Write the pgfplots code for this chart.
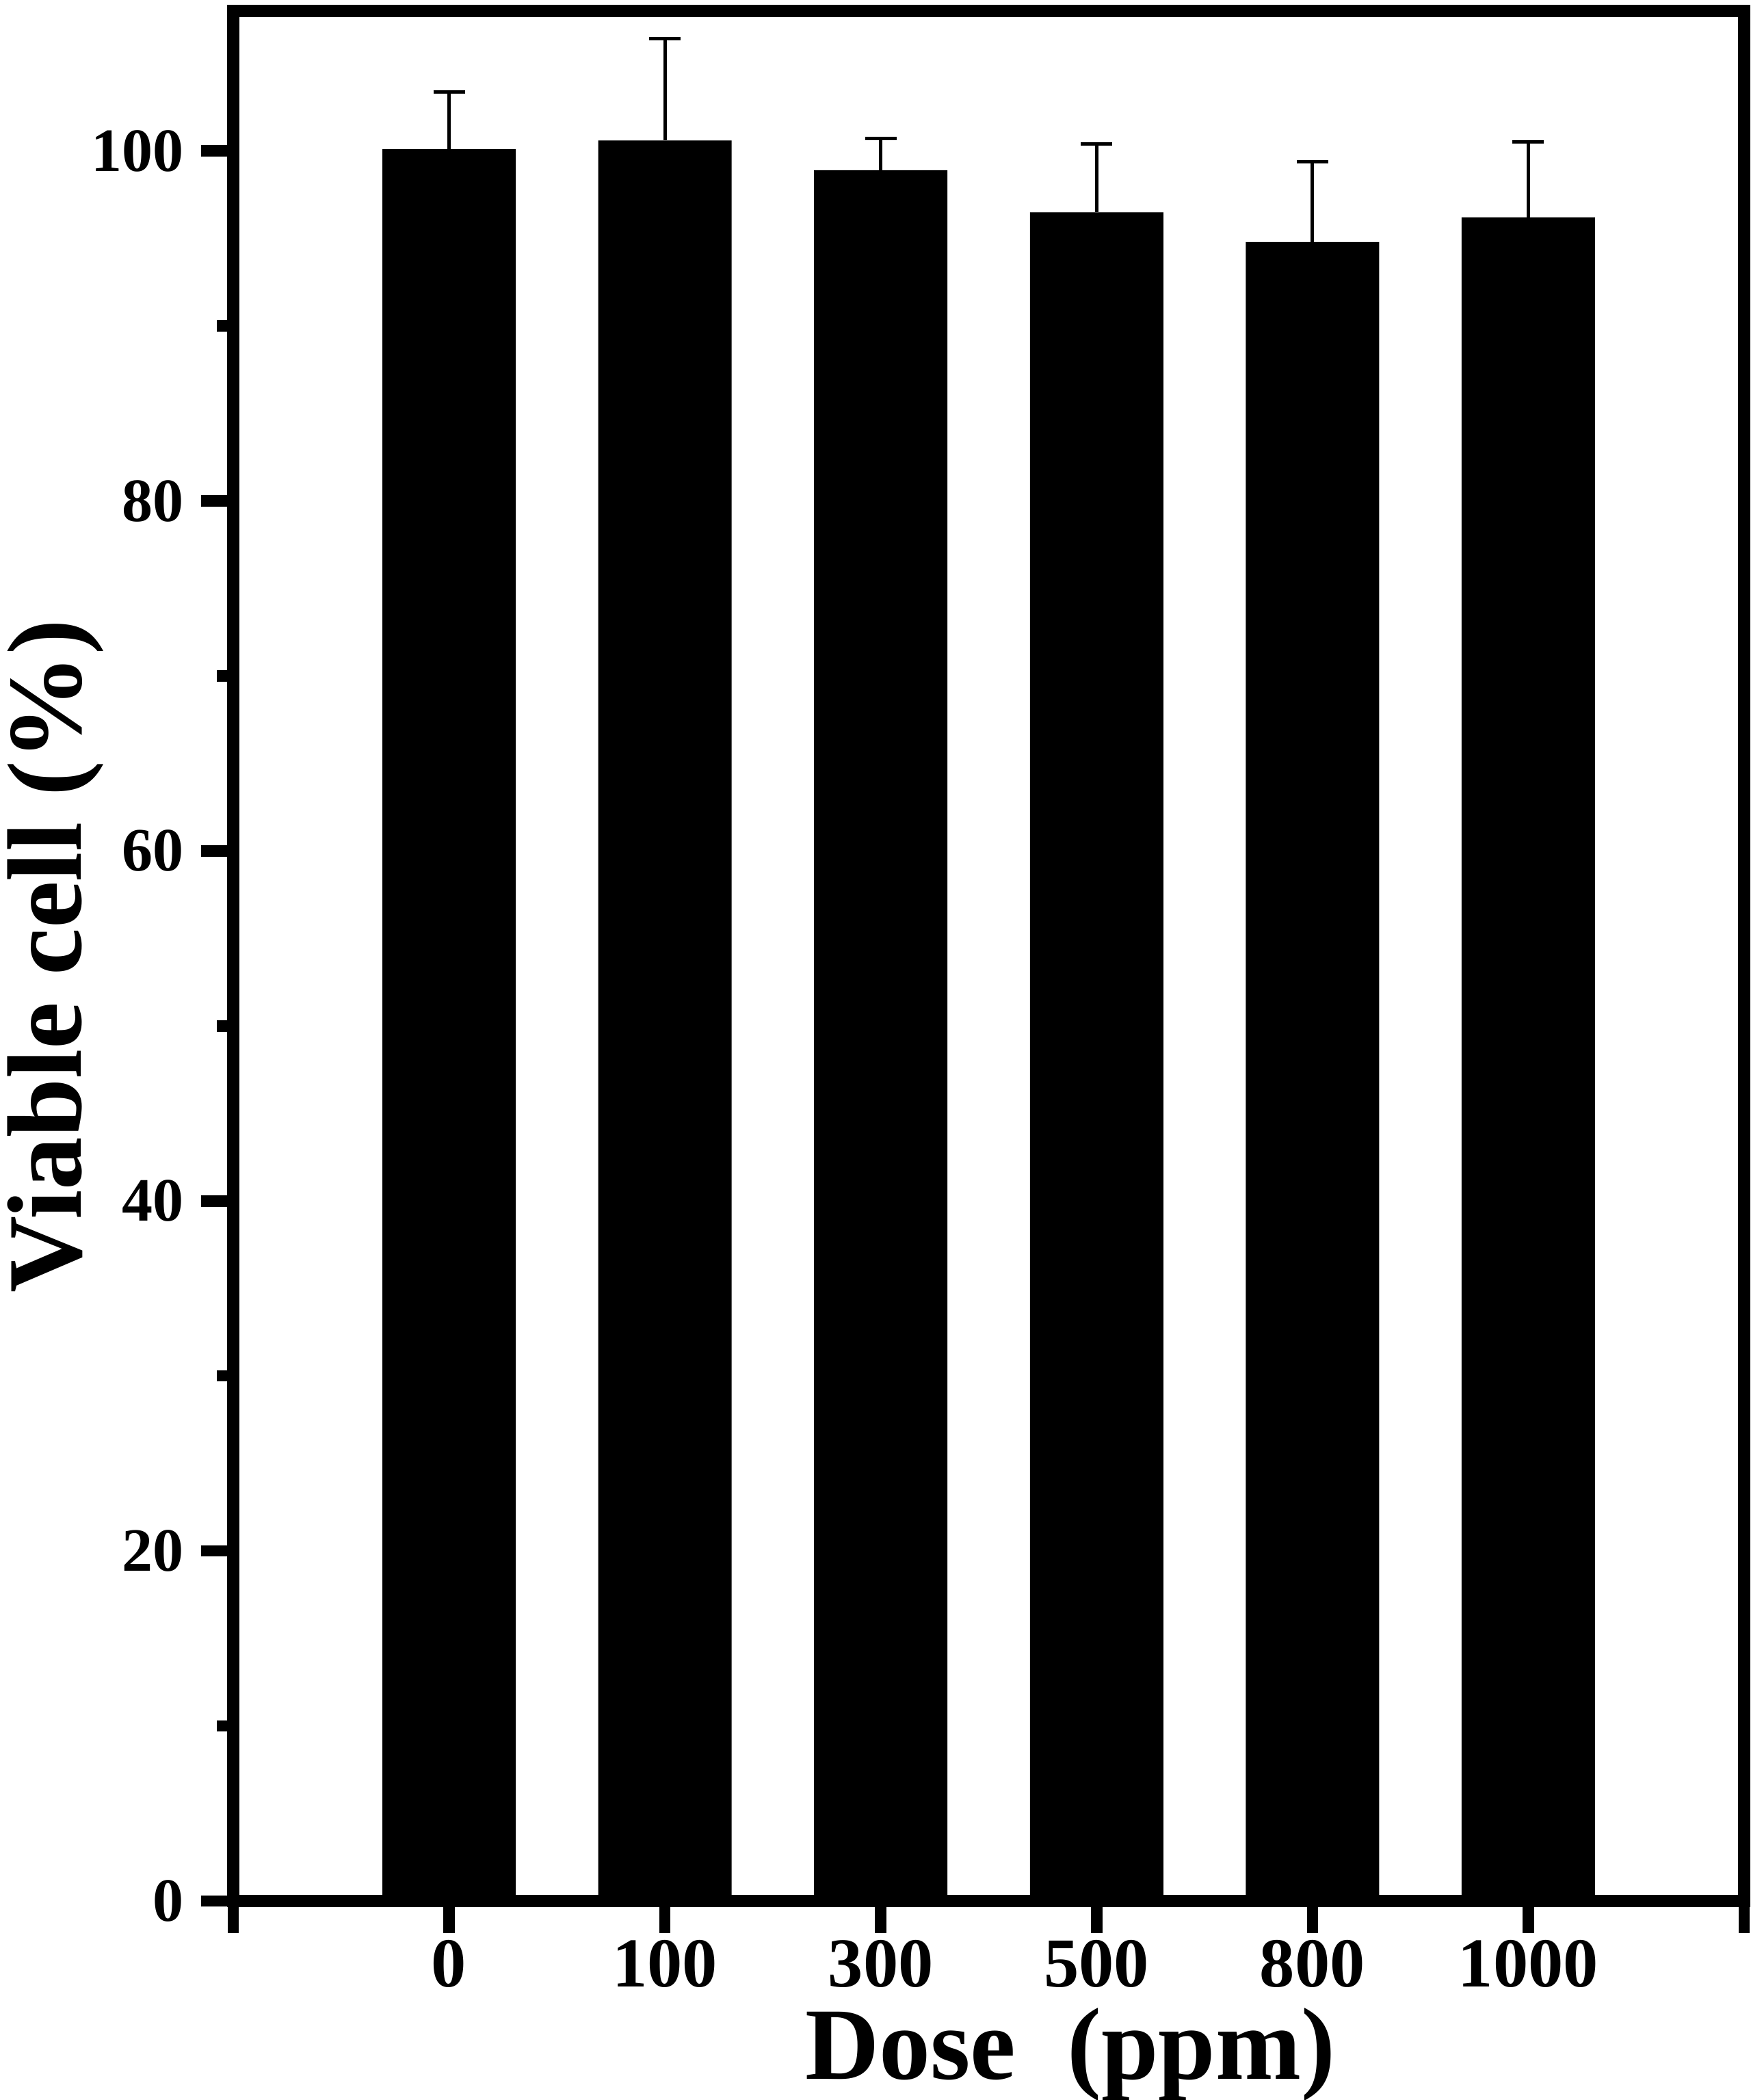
\documentclass[border=0pt]{standalone}
\usepackage{pgfplots}
\pgfplotsset{compat=1.18}
\usepackage{fontspec}
\setmainfont{Liberation Serif}
\begin{document}
\begin{tikzpicture}
\begin{axis}[
  name=a,
  scale only axis,
  width=441.8pt, height=552.8pt,
  xmin=-1, xmax=6, ymin=0, ymax=108,
  axis line style={line width=3.5pt},
  every tick/.style={line width=3.3pt, black},
  tick align=outside,
  major tick length=9.4pt,
  minor tick length=4.8pt,
  xtick pos=bottom, ytick pos=left,
  xtick={-1,0,1,2,3,4,5,6},
  xticklabels={,0,100,300,500,800,1000,},
  ytick={0,20,40,60,80,100},
  minor ytick={10,30,50,70,90},
  /pgf/number format/assume math mode=true,
  xticklabel style={font=\bfseries\fontsize{20.5}{20.5}\selectfont, yshift=1.5pt},
  yticklabel style={font=\bfseries\fontsize{18}{18}\selectfont, xshift=-1.5pt},
  xlabel={Dose\ \ (ppm)},
  ylabel={Viable cell (\%)},
  xlabel style={font=\bfseries\fontsize{30}{30}\selectfont, at={(axis description cs:0.554,0)}, anchor=base, yshift=-52pt},
  ylabel style={font=\bfseries\fontsize{31}{31}\selectfont, inner sep=0pt, at={([xshift=-44.5pt]axis description cs:0,0.5)}, anchor=base},
  clip=false,
]
\addplot[ybar, bar width=39pt, fill=black, draw=none,
  error bars/.cd, y dir=plus, y explicit,
  error bar style={line width=1pt, black},
  error mark options={rotate=90, mark size=4.6pt, line width=1pt, black}]
  table[x=x, y=y, y error=e] {
x y e
0 100.1 3.25
1 100.6 5.8
2 98.9 1.8
3 96.5 3.9
4 94.8 4.6
5 96.2 4.3
};
\end{axis}
\pgfresetboundingbox
\path[use as bounding box] ([shift={(-68.2pt,-58.2pt)}]a.south west) rectangle ([shift={(2pt,3.2pt)}]a.north east);
\end{tikzpicture}
\end{document}
